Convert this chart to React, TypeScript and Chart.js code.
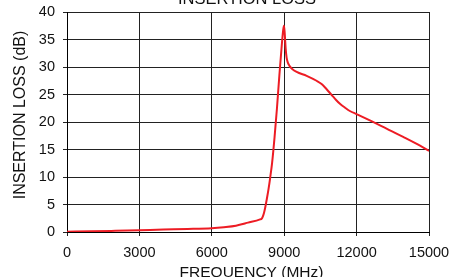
import React, { useEffect, useRef } from "react";
import { Chart, registerables } from "chart.js";

Chart.register(...registerables);

const freqMHz = [0, 1000, 2000, 3000, 4000, 5000, 6000, 6500, 7000, 7500, 8000, 8070, 8120, 8170, 8220, 8280, 8350, 8420, 8500, 8600, 8700, 8800, 8900, 8960, 8990, 9020, 9060, 9100, 9150, 9220, 9320, 9516, 9930, 10340, 10550, 10750, 10970, 11150, 11310, 11520, 11720, 12020, 12550, 13240, 13930, 14630, 15000];
const lossDb = [0.05, 0.12, 0.22, 0.33, 0.45, 0.55, 0.7, 0.88, 1.15, 1.7, 2.3, 2.45, 2.9, 3.6, 4.6, 6.0, 7.8, 9.9, 12.6, 17.2, 22.5, 28.5, 34, 36.8, 37.5, 36.2, 33.4, 31.7, 30.8, 30.2, 29.7, 29.1, 28.4, 27.5, 26.9, 26.0, 24.9, 24.0, 23.3, 22.6, 22.0, 21.4, 20.3, 18.8, 17.3, 15.7, 14.75];

const xTicks = [0, 3000, 6000, 9000, 12000, 15000];
const yTicks = [0, 5, 10, 15, 20, 25, 30, 35, 40];

const titleText = "INSERTION LOSS";
const xTitle = "FREQUENCY (MHz)";
const yTitle = "INSERTION LOSS (dB)";

const FONT = "'Liberation Sans', Arial, Helvetica, sans-serif";
const OFFSET = 15;
const W = 470;
const H = 310;

export default function App() {
  const ref = useRef<HTMLCanvasElement | null>(null);

  useEffect(() => {
    if (!ref.current) return;
    const labelsPlugin = {
      id: "labels",
      afterDraw(chart: any) {
        const ctx = chart.ctx;
        ctx.save();
        ctx.fillStyle = "#111";
        ctx.textAlign = "center";
        ctx.textBaseline = "alphabetic";
        ctx.font = `16.5px ${FONT}`;
        ctx.fillText(titleText, 247, 4 + OFFSET);
        ctx.font = `15.5px ${FONT}`;
        ctx.fillText(xTitle, 251.5, 277.2 + OFFSET);
        ctx.translate(24.7, 115 + OFFSET);
        ctx.rotate(-Math.PI / 2);
        ctx.font = `16px ${FONT}`;
        ctx.fillText(yTitle, 0, 0);
        ctx.restore();
      },
    };
    const chart = new Chart(ref.current, {
      type: "line",
      data: {
        datasets: [
          {
            data: freqMHz.map((f, i) => ({ x: f, y: lossDb[i] })),
            borderColor: "#ed1c24",
            borderWidth: 2,
            pointRadius: 0,
            cubicInterpolationMode: "monotone",
            fill: false,
          },
        ],
      },
      options: {
        responsive: false,
        animation: false,
        events: [],
        layout: { padding: { left: 0, top: 27, right: W - 429, bottom: 0 } },
        plugins: { legend: { display: false }, tooltip: { enabled: false }, title: { display: false } },
        scales: {
          x: {
            type: "linear",
            min: 0,
            max: 15000,
            afterFit: (s: any) => {
              s.height = H - 247;
            },
            afterBuildTicks: (s: any) => {
              s.ticks = xTicks.map((v) => ({ value: v }));
            },
            ticks: {
              font: { family: FONT, size: 14.5 },
              color: "#111",
              padding: 8,
              maxRotation: 0,
              autoSkip: false,
              callback: (v: any) => String(v),
            },
            grid: { color: "#222", lineWidth: 1, tickLength: 4, tickColor: "#222" },
            border: { display: true, color: "#000", width: 1 },
          },
          y: {
            type: "linear",
            min: 0,
            max: 40,
            afterFit: (s: any) => {
              s.width = 67;
            },
            afterBuildTicks: (s: any) => {
              s.ticks = yTicks.map((v) => ({ value: v }));
            },
            ticks: {
              font: { family: FONT, size: 14.5 },
              color: "#111",
              padding: 8,
              autoSkip: false,
              callback: (v: any) => String(v),
            },
            grid: { color: "#222", lineWidth: 1, tickLength: 4, tickColor: "#222" },
            border: { display: true, color: "#000", width: 1 },
          },
        },
      },
      plugins: [labelsPlugin],
    } as any);
    return () => chart.destroy();
  }, []);

  return (
    <div style={{ position: "fixed", left: 0, top: 0, width: 449, height: 277, overflow: "hidden", background: "#fff" }}>
      <canvas
        ref={ref}
        width={W}
        height={H}
        style={{ position: "absolute", left: 0, top: -OFFSET, width: W, height: H }}
      />
    </div>
  );
}
